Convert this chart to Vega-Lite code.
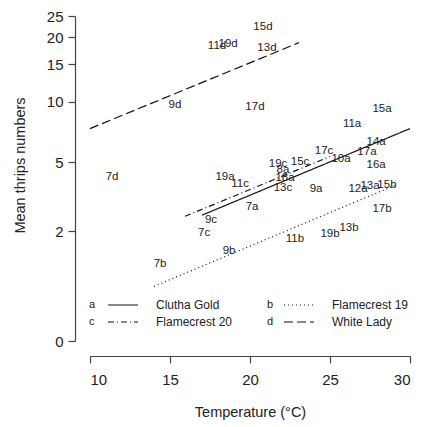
{
  "$schema": "https://vega.github.io/schema/vega-lite/v6.json",
  "width": 320,
  "height": 325,
  "autosize": {"type": "none"},
  "padding": {"left": 90, "top": 16, "right": 20, "bottom": 86},
  "background": "white",
  "config": {
    "view": {"stroke": null},
    "font": "Liberation Sans",
    "axis": {"grid": false, "domainColor": "#444", "tickColor": "#444", "labelColor": "#222", "titleColor": "#222", "labelFont": "Liberation Sans", "titleFont": "Liberation Sans", "titleFontWeight": "normal", "domainWidth": 1.2, "tickWidth": 1.2}
  },
  "datasets": {
    "pts": [
      {"label": "19a", "cultivar": "a", "temp": 18.44, "thrips": 4.16},
      {"label": "7a", "cultivar": "a", "temp": 20.13, "thrips": 2.82},
      {"label": "15a", "cultivar": "a", "temp": 28.25, "thrips": 9.28},
      {"label": "11a", "cultivar": "a", "temp": 26.38, "thrips": 7.85},
      {"label": "14a", "cultivar": "a", "temp": 27.88, "thrips": 6.32},
      {"label": "17a", "cultivar": "a", "temp": 27.31, "thrips": 5.62},
      {"label": "10a", "cultivar": "a", "temp": 25.69, "thrips": 5.23},
      {"label": "16a", "cultivar": "a", "temp": 27.88, "thrips": 4.81},
      {"label": "8a", "cultivar": "a", "temp": 22.06, "thrips": 4.58},
      {"label": "18a", "cultivar": "a", "temp": 22.19, "thrips": 4.1},
      {"label": "9a", "cultivar": "a", "temp": 24.13, "thrips": 3.57},
      {"label": "12a", "cultivar": "a", "temp": 26.75, "thrips": 3.57},
      {"label": "13a", "cultivar": "a", "temp": 27.5, "thrips": 3.71},
      {"label": "9b", "cultivar": "b", "temp": 18.69, "thrips": 1.46},
      {"label": "7b", "cultivar": "b", "temp": 14.38, "thrips": 1.16},
      {"label": "15b", "cultivar": "b", "temp": 28.56, "thrips": 3.76},
      {"label": "17b", "cultivar": "b", "temp": 28.25, "thrips": 2.74},
      {"label": "11b", "cultivar": "b", "temp": 22.81, "thrips": 1.77},
      {"label": "19b", "cultivar": "b", "temp": 25.0, "thrips": 1.92},
      {"label": "13b", "cultivar": "b", "temp": 26.19, "thrips": 2.1},
      {"label": "11c", "cultivar": "c", "temp": 19.38, "thrips": 3.81},
      {"label": "9c", "cultivar": "c", "temp": 17.56, "thrips": 2.35},
      {"label": "7c", "cultivar": "c", "temp": 17.13, "thrips": 1.94},
      {"label": "17c", "cultivar": "c", "temp": 24.63, "thrips": 5.75},
      {"label": "19c", "cultivar": "c", "temp": 21.75, "thrips": 4.87},
      {"label": "15c", "cultivar": "c", "temp": 23.13, "thrips": 4.99},
      {"label": "13c", "cultivar": "c", "temp": 22.06, "thrips": 3.62},
      {"label": "15d", "cultivar": "d", "temp": 20.81, "thrips": 22.3},
      {"label": "11d", "cultivar": "d", "temp": 17.94, "thrips": 18.3},
      {"label": "19d", "cultivar": "d", "temp": 18.63, "thrips": 18.7},
      {"label": "13d", "cultivar": "d", "temp": 21.06, "thrips": 17.9},
      {"label": "9d", "cultivar": "d", "temp": 15.31, "thrips": 9.7},
      {"label": "17d", "cultivar": "d", "temp": 20.31, "thrips": 9.4},
      {"label": "7d", "cultivar": "d", "temp": 11.38, "thrips": 4.2}
    ],
    "fits": [
      {"variety": "Clutha Gold", "temp": 17.0, "thrips": 2.53},
      {"variety": "Clutha Gold", "temp": 30.0, "thrips": 7.41},
      {"variety": "Flamecrest 19", "temp": 14.0, "thrips": 0.73},
      {"variety": "Flamecrest 19", "temp": 29.06, "thrips": 3.76},
      {"variety": "Flamecrest 20", "temp": 15.94, "thrips": 2.49},
      {"variety": "Flamecrest 20", "temp": 25.0, "thrips": 5.36},
      {"variety": "White Lady", "temp": 10.0, "thrips": 7.41},
      {"variety": "White Lady", "temp": 23.06, "thrips": 18.9}
    ]
  },
  "encoding": {
    "x": {"field": "temp", "type": "quantitative", "scale": {"domain": [10, 30], "nice": false, "zero": false},
      "axis": {"values": [10, 15, 20, 25, 30], "offset": 15, "tickSize": 7, "labelFontSize": 15, "labelPadding": 9, "title": "Temperature (°C)", "titleFontSize": 14.5, "titlePadding": 18}},
    "y": {"field": "thrips", "type": "quantitative", "scale": {"type": "symlog", "constant": 1, "domain": [0, 25], "nice": false},
      "axis": {"values": [0, 2, 5, 10, 15, 20, 25], "offset": 15, "tickSize": 7, "labelFontSize": 15, "labelPadding": 5, "title": "Mean thrips numbers", "titleFontSize": 14.5, "titleX": -55, "titleY": 149, "titleBaseline": "middle"}}
  },
  "layer": [
    {
      "data": {"name": "fits"},
      "mark": {"type": "line", "color": "#111", "strokeWidth": 1.2},
      "encoding": {
        "detail": {"field": "variety"},
        "strokeDash": {"field": "variety", "type": "nominal",
          "scale": {"domain": ["Clutha Gold", "Flamecrest 19", "Flamecrest 20", "White Lady"], "range": [[1, 0], [1, 3], [6, 3, 1, 3], [9, 4]]},
          "legend": {"orient": "none", "legendX": 17, "legendY": 283, "columns": 2, "direction": "horizontal", "columnPadding": 50, "rowPadding": 5, "padding": 0, "clipHeight": 12,
            "symbolType": "stroke", "symbolSize": 900, "symbolStrokeWidth": 1.2, "symbolStrokeColor": "#111",
            "labelOffset": 17, "labelFontSize": 12, "labelColor": "#222", "labelFont": "Liberation Sans", "title": null}}
      }
    },
    {
      "data": {"name": "pts"},
      "mark": {"type": "text", "fontSize": 11.5, "align": "center", "baseline": "middle", "font": "Liberation Sans"},
      "encoding": {
        "text": {"field": "label"},
        "color": {"field": "cultivar", "type": "nominal",
          "scale": {"domain": ["a", "b", "c", "d"], "range": ["#222", "#222", "#222", "#222"]},
          "legend": {"orient": "none", "legendX": -12, "legendY": 283, "columns": 2, "direction": "horizontal", "columnPadding": 160, "rowPadding": 5, "padding": 0, "clipHeight": 12,
            "symbolSize": 0, "symbolOpacity": 0, "symbolStrokeWidth": 0, "labelOffset": 0, "labelFontSize": 11, "labelColor": "#222", "labelFont": "Liberation Sans", "title": null}}
      }
    }
  ]
}
